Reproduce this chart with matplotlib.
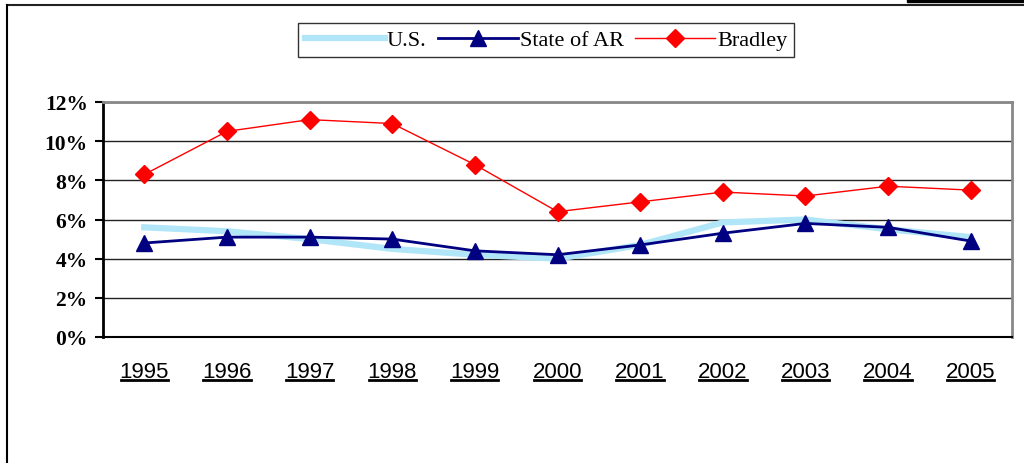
import matplotlib
matplotlib.use('Agg')
import matplotlib.pyplot as plt
from matplotlib.lines import Line2D
from matplotlib.patches import Rectangle
from matplotlib.ticker import FuncFormatter

# Chart data
years = ['1995', '1996', '1997', '1998', '1999', '2000', '2001', '2002', '2003', '2004', '2005']
us = [5.6, 5.4, 5.0, 4.5, 4.2, 4.0, 4.7, 5.85, 6.0, 5.5, 5.1]
state_ar = [4.8, 5.1, 5.1, 5.0, 4.4, 4.2, 4.7, 5.3, 5.8, 5.6, 4.9]
bradley = [8.3, 10.5, 11.1, 10.9, 8.8, 6.4, 6.9, 7.4, 7.2, 7.7, 7.5]
y_ticks = [0, 2, 4, 6, 8, 10, 12]

fig = plt.figure(figsize=(10.24, 4.64), dpi=100)
ax = fig.add_axes([103 / 1024, 1 - 338 / 464, 909 / 1024, 235 / 464])

x = list(range(len(years)))

# Plot the three series
ax.plot(x, us, color='#b0e6f8', linewidth=4.5, label='U.S.', zorder=2)
ax.plot(x, state_ar, color='#000080', linewidth=2, marker='^', markersize=11,
        label='State of AR', zorder=3)
ax.plot(x, bradley, color='#ff0000', linewidth=1, marker='D', markersize=9,
        label='Bradley', zorder=3)

# Axes limits and gridlines
ax.set_xlim(-0.5, len(years) - 0.5)
ax.set_ylim(0, 12)
ax.set_yticks(y_ticks)
ax.yaxis.set_major_formatter(FuncFormatter(lambda v, p: f'{int(v)}%'))
ax.set_xticks(x)
ax.set_xticklabels(years)
ax.grid(axis='y', color='#222222', linewidth=1)
ax.set_axisbelow(True)

for lbl in ax.get_yticklabels():
    lbl.set_fontfamily('Liberation Serif')
    lbl.set_fontweight('bold')
    lbl.set_fontsize(15.5)
for lbl in ax.get_xticklabels():
    lbl.set_fontfamily('Liberation Sans')
    lbl.set_fontsize(16)

ax.tick_params(axis='y', direction='out', length=6, width=1.5, pad=5)
ax.tick_params(axis='x', length=0, pad=17)

ax.spines['left'].set_color('black')
ax.spines['left'].set_linewidth(2)
ax.spines['bottom'].set_color('black')
ax.spines['bottom'].set_linewidth(1.5)
ax.spines['top'].set_color('#888888')
ax.spines['top'].set_linewidth(2)
ax.spines['right'].set_color('#888888')
ax.spines['right'].set_linewidth(2)

# Legend box above the plot
leg = ax.legend(loc='center', bbox_to_anchor=(546 / 1024, 1 - 41 / 464),
                bbox_transform=fig.transFigure, ncol=3, frameon=True,
                fancybox=False, shadow=False, edgecolor='black',
                prop={'family': 'Liberation Serif', 'size': 16},
                handlelength=3.6, handletextpad=0.1, columnspacing=0.5,
                borderpad=0.3, borderaxespad=0)
leg.get_frame().set_linewidth(1)

# Outer frame lines
fig.add_artist(Line2D([7 / 1024, 1], [1 - 6 / 464, 1 - 6 / 464], color='#222222', linewidth=1.5))
fig.add_artist(Line2D([7 / 1024, 7 / 1024], [0, 1 - 6 / 464], color='black', linewidth=1.5))
fig.add_artist(Rectangle((907 / 1024, 1 - 3 / 464), 117 / 1024, 3 / 464,
                         transform=fig.transFigure, color='black'))

# Underline the year labels
fig.canvas.draw()
renderer = fig.canvas.get_renderer()
W, H = fig.bbox.width, fig.bbox.height
for lbl in ax.get_xticklabels():
    bb = lbl.get_window_extent(renderer)
    yline = (bb.y0 + 2) / H
    fig.add_artist(Line2D([(bb.x0 + 1) / W, (bb.x1 - 1) / W], [yline, yline], color='black', linewidth=2))

fig.savefig('out.png', dpi=100, facecolor='white')
